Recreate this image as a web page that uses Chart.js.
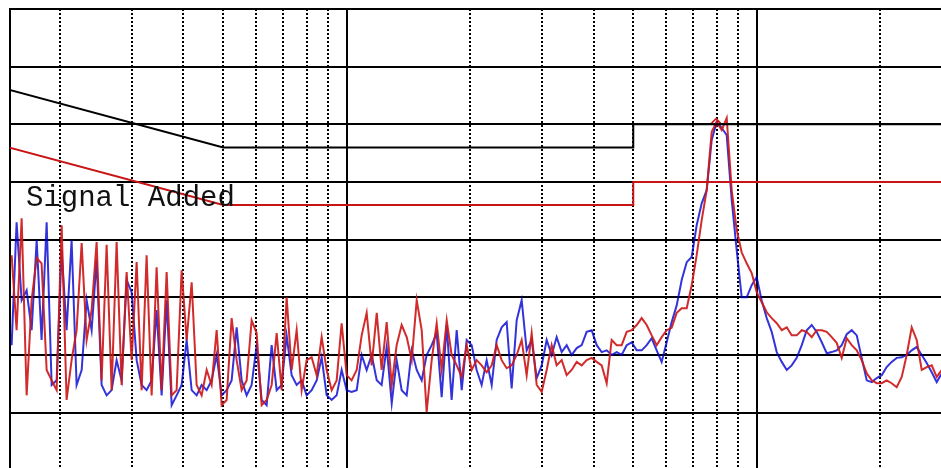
<!DOCTYPE html>
<html>
<head>
<meta charset="utf-8">
<title>Conducted emissions scan</title>
<script src="https://cdn.jsdelivr.net/npm/chart.js@4/dist/chart.umd.min.js"></script>
<style>
  html, body { margin: 0; padding: 0; background: #fff; overflow: hidden; }
  #wrap { position: relative; width: 941px; height: 468px; }
</style>
</head>
<body>
<div id="wrap"><canvas id="scan"></canvas></div>
<script>
// Analyser sweep frequencies, MHz
const freqMHz = [
  0.1524, 0.1567, 0.1612, 0.1658, 0.1705, 0.1754, 0.1803, 0.1855, 0.1908, 0.1962,
  0.2018, 0.2075, 0.2134, 0.2195, 0.2258, 0.2322, 0.2388, 0.2456, 0.2526, 0.2598,
  0.2672, 0.2748, 0.2826, 0.2907, 0.2990, 0.3075, 0.3162, 0.3252, 0.3345, 0.3440,
  0.3538, 0.3639, 0.3743, 0.3849, 0.3959, 0.4072, 0.4188, 0.4307, 0.4429, 0.4556,
  0.4685, 0.4819, 0.4956, 0.5097, 0.5242, 0.5392, 0.5545, 0.5703, 0.5865, 0.6032,
  0.6204, 0.6381, 0.6563, 0.6750, 0.6942, 0.7139, 0.7343, 0.7552, 0.7767, 0.7988,
  0.8216, 0.8450, 0.8690, 0.8938, 0.9192, 0.9454, 0.9723,
  1.000, 1.028, 1.058, 1.088, 1.119, 1.151, 1.184, 1.217, 1.252, 1.288,
  1.324, 1.362, 1.401, 1.441, 1.482, 1.524, 1.567, 1.612, 1.658, 1.705,
  1.754, 1.803, 1.855, 1.908, 1.962, 2.018, 2.075, 2.134, 2.195, 2.258,
  2.322, 2.388, 2.456, 2.526, 2.598, 2.672, 2.748, 2.826, 2.907, 2.990,
  3.075, 3.162, 3.252, 3.345, 3.440, 3.538, 3.639, 3.743, 3.849, 3.959,
  4.072, 4.188, 4.307, 4.429, 4.556, 4.685, 4.819, 4.956, 5.097, 5.242,
  5.392, 5.545, 5.703, 5.865, 6.032, 6.204, 6.381, 6.563, 6.750, 6.942,
  7.139, 7.343, 7.552, 7.767, 7.988, 8.216, 8.450, 8.690, 8.938, 9.192,
  9.454, 9.723,
  10.00, 10.28, 10.58, 10.88, 11.19, 11.51, 11.84, 12.17, 12.52, 12.88,
  13.24, 13.62, 14.01, 14.41, 14.82, 15.24, 15.67, 16.12, 16.58, 17.05,
  17.54, 18.03, 18.55, 19.08, 19.62, 20.18, 20.75, 21.34, 21.95, 22.58,
  23.22, 23.88, 24.56, 25.26, 25.98, 26.72, 27.48, 28.26
];

// Ambient scan, dBuV (red)
const traceRed = [
  37.3, 24.3, 43.7, 13.0, 29.5, 36.8, 35.9, 17.4, 15.6, 13.9,
  42.5, 12.2, 19.1, 24.3, 39.4, 22.6, 27.8, 39.6, 15.6, 39.1,
  13.9, 39.6, 14.8, 34.4, 19.1, 36.1, 13.9, 37.3, 13.0, 35.2,
  13.9, 34.4, 13.0, 13.9, 34.7, 22.6, 32.6, 14.8, 13.0, 17.4,
  14.8, 24.3, 11.3, 12.2, 26.4, 19.1, 13.9, 15.6, 26.0, 23.8,
  11.3, 12.2, 14.8, 23.8, 13.9, 30.0, 17.4, 24.3, 13.9, 19.1,
  19.6, 16.5, 23.1, 17.4, 13.9, 15.6, 25.5,
  16.5, 15.6, 17.4, 23.4, 27.3, 18.2, 27.3, 17.4, 25.7, 14.8,
  21.7, 25.2, 23.1, 19.1, 29.5, 24.3, 10.1, 19.1, 25.5, 17.4,
  26.0, 20.0, 18.2, 16.2, 21.7, 17.4, 19.1, 18.2, 17.0, 18.2,
  21.7, 19.1, 17.7, 18.2, 20.0, 22.6, 16.5, 23.8, 14.8, 13.6,
  17.4, 21.7, 18.2, 19.1, 16.5, 17.4, 18.8, 18.2, 19.1, 19.5,
  18.8, 18.2, 15.1, 22.6, 21.7, 21.7, 24.0, 24.3, 25.2, 26.4,
  25.2, 23.4, 21.7, 23.1, 24.3, 24.7, 27.3, 28.1, 28.1, 32.1,
  37.3, 43.4, 48.6, 58.7, 60.4, 59.0, 61.1, 48.6, 41.7, 37.8,
  35.9, 34.2,
  30.9, 29.2, 27.4, 26.4, 25.5, 24.3, 24.8, 23.4, 23.4, 24.3,
  24.0, 23.1, 24.3, 24.3, 24.0, 23.1, 22.1, 19.5, 22.9, 21.7,
  20.8, 19.1, 16.8, 15.6, 15.1, 15.1, 15.6, 15.1, 14.4, 16.2,
  20.0, 24.8, 22.6, 17.4, 17.9, 18.2, 16.2, 17.4
];

// Scan with the signal added, dBuV (blue)
const traceBlue = [
  21.7, 43.0, 29.5, 31.2, 24.3, 39.9, 22.6, 43.0, 14.8, 15.6,
  38.2, 24.3, 39.9, 14.8, 17.4, 29.5, 24.3, 36.5, 14.8, 13.0,
  13.9, 19.1, 15.6, 33.0, 30.9, 19.1, 14.8, 13.9, 15.6, 27.8,
  13.0, 29.5, 11.3, 13.0, 14.8, 22.6, 13.9, 13.0, 14.8, 13.9,
  15.6, 20.0, 13.0, 13.9, 15.6, 24.8, 15.6, 13.0, 14.8, 21.7,
  12.2, 11.3, 21.7, 13.9, 14.8, 23.4, 16.5, 14.8, 15.6, 13.0,
  13.9, 15.6, 19.6, 13.0, 12.2, 13.0, 17.4,
  13.9, 13.6, 13.9, 20.0, 17.4, 20.0, 15.6, 14.8, 21.4, 11.6,
  19.1, 13.9, 13.0, 20.8, 17.4, 15.6, 20.0, 21.7, 23.8, 12.7,
  25.2, 12.2, 24.3, 13.9, 22.6, 21.7, 17.4, 14.8, 19.1, 14.8,
  22.6, 24.8, 25.7, 14.2, 26.0, 29.5, 20.8, 22.6, 16.0, 18.2,
  22.6, 20.0, 23.1, 20.5, 21.7, 20.0, 21.2, 21.7, 24.0, 24.3,
  21.7, 20.5, 20.8, 20.0, 20.5, 20.0, 21.7, 22.2, 20.8, 20.8,
  21.7, 22.9, 20.8, 18.8, 22.2, 25.7, 28.6, 33.0, 36.1, 37.0,
  42.5, 46.3, 48.6, 57.3, 60.4, 59.4, 58.1, 46.9, 38.2, 30.0,
  30.0, 32.1,
  33.5, 29.5, 26.4, 24.0, 20.5, 18.8, 17.4, 18.2, 19.5, 21.7,
  24.3, 25.2, 24.0, 22.2, 20.3, 20.5, 20.8, 21.7, 23.6, 24.3,
  23.4, 19.5, 15.6, 15.3, 16.0, 16.5, 17.9, 18.8, 19.5, 19.6,
  20.0, 20.8, 21.4, 20.0, 18.6, 17.0, 15.3, 16.8
];

// Class B limit lines (quasi-peak and average), dBuV
const limitFreq = [0.15, 0.5, 5, 5, 30];
const limitQP = [66, 56, 56, 60, 60];
const limitAV = [56, 46, 46, 50, 50];

// Peak marker
const markerFreq = [7.96];
const markerLevel = [60.3];

// Grid positions
const decadeTicks = [1, 10];
const minorTicks = [0.2, 0.3, 0.4, 0.5, 0.6, 0.7, 0.8, 0.9, 2, 3, 4, 5, 6, 7, 8, 9, 20];
const levelTicks = [10, 20, 30, 40, 50, 60, 70, 80];

const noteText = 'Signal Added';

const toPoints = (xs, ys) => xs.map((x, i) => ({ x: x, y: ys[i] }));

const xRange = { min: 0.151, max: 28.15 };

const notePlugin = {
  id: 'note',
  afterDatasetsDraw(chart) {
    const ctx = chart.ctx;
    ctx.save();
    ctx.font = '29px "Liberation Mono", "DejaVu Sans Mono", monospace';
    ctx.fillStyle = '#111';
    ctx.textBaseline = 'alphabetic';
    ctx.fillText(noteText, 26, 206);
    ctx.restore();
  }
};

new Chart(document.getElementById('scan'), {
  type: 'line',
  data: {
    datasets: [
      {
        label: 'Average limit',
        data: toPoints(limitFreq, limitAV),
        borderColor: 'rgb(200,20,20)',
        borderWidth: 2,
        pointRadius: 0
      },
      {
        label: 'Quasi-peak limit',
        data: toPoints(limitFreq, limitQP),
        borderColor: '#000',
        borderWidth: 2,
        pointRadius: 0
      },
      {
        label: 'Ambient',
        data: toPoints(freqMHz, traceRed),
        borderColor: 'rgba(205,25,25,0.92)',
        borderWidth: 2,
        pointRadius: 0
      },
      {
        label: 'Signal added',
        data: toPoints(freqMHz, traceBlue),
        borderColor: 'rgba(0,0,210,0.8)',
        borderWidth: 2,
        pointRadius: 0
      },
      {
        label: 'Peak',
        data: toPoints(markerFreq, markerLevel),
        showLine: false,
        pointStyle: 'rectRot',
        pointRadius: 4,
        borderColor: 'rgb(215,25,25)',
        backgroundColor: 'rgba(0,0,0,0)',
        borderWidth: 1.5
      }
    ]
  },
  options: {
    animation: false,
    responsive: true,
    maintainAspectRatio: false,
    devicePixelRatio: 1,
    events: [],
    layout: { autoPadding: false, padding: { left: 10, top: 9, right: 0, bottom: 0 } },
    elements: { line: { tension: 0 } },
    plugins: { legend: { display: false }, tooltip: { enabled: false } },
    scales: {
      x: {
        type: 'logarithmic',
        position: 'bottom',
        min: xRange.min,
        max: xRange.max,
        ticks: { display: false },
        grid: { color: '#000', lineWidth: 2, drawTicks: false },
        border: { display: false },
        afterBuildTicks: s => { s.ticks = decadeTicks.map(v => ({ value: v })); }
      },
      xMinor: {
        type: 'logarithmic',
        position: 'bottom',
        min: xRange.min,
        max: xRange.max,
        ticks: { display: false },
        grid: { color: '#000', lineWidth: 2, drawTicks: false },
        border: { display: false, dash: [2, 2] },
        afterBuildTicks: s => { s.ticks = minorTicks.map(v => ({ value: v })); }
      },
      y: {
        type: 'linear',
        min: 0.4,
        max: 80,
        ticks: { display: false },
        grid: { color: '#000', lineWidth: 2, drawTicks: false },
        border: { display: true, color: '#000', width: 2 },
        afterBuildTicks: s => { s.ticks = levelTicks.map(v => ({ value: v })); }
      }
    }
  },
  plugins: [notePlugin]
});
</script>
</body>
</html>
